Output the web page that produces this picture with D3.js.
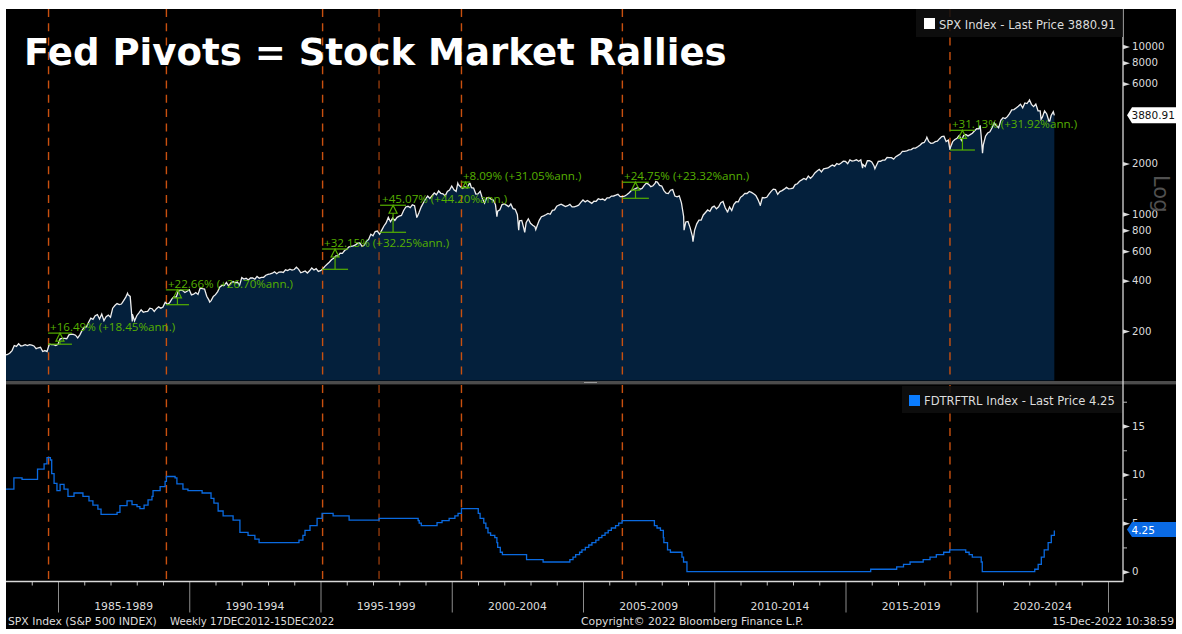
<![CDATA[<!DOCTYPE html>
<html><head><meta charset="utf-8">
<style>html,body{margin:0;padding:0;background:#fff;overflow:hidden}svg{display:block}text{font-family:"DejaVu Sans",sans-serif}</style>
<script src="https://cdn.jsdelivr.net/npm/d3@7"></script></head>
<body><svg id="c" width="1182" height="634"></svg>
<script>
// ---------- data read from the picture ----------
const spxFirstYear = 1983;
const spxMonthEnd = [
145,148,153,164,162,168,163,164,166,164,166,165,
163,157,159,160,151,153,151,167,166,166,164,167,
180,181,181,180,190,192,191,189,182,190,202,211,
212,226,239,235,247,251,236,253,231,244,249,242,
274,284,292,288,290,304,319,330,322,252,230,247,
257,268,259,261,262,274,272,262,272,279,274,278,
297,289,295,310,321,318,346,351,349,340,346,353,
329,332,340,331,361,358,356,323,306,304,322,330,
344,367,375,375,390,371,388,395,388,392,375,417,
409,413,404,415,415,408,424,414,418,419,431,436,
439,443,452,440,450,451,448,464,459,468,462,466,
482,467,446,451,457,444,458,476,463,472,454,459,
470,487,501,515,533,545,562,562,584,582,605,616,
636,640,645,654,669,671,640,652,687,705,757,741,
786,791,757,801,848,885,954,899,947,915,955,970,
980,1049,1102,1112,1091,1134,1121,957,1017,1099,1164,1229,
1280,1238,1286,1335,1302,1373,1329,1320,1283,1363,1389,1469,
1394,1366,1499,1452,1421,1455,1431,1518,1437,1429,1315,1320,
1366,1240,1160,1249,1256,1224,1211,1134,1041,1060,1139,1148,
1130,1107,1147,1077,1067,990,912,916,815,886,936,880,
856,841,848,917,964,975,990,1008,996,1051,1058,1112,
1131,1145,1126,1107,1121,1141,1102,1104,1115,1130,1174,1212,
1181,1204,1181,1157,1192,1191,1234,1220,1229,1207,1249,1248,
1280,1281,1295,1311,1270,1270,1277,1304,1336,1378,1401,1418,
1439,1407,1421,1482,1531,1503,1455,1474,1527,1549,1481,1468,
1379,1331,1323,1386,1400,1280,1267,1283,1165,969,896,903,
826,735,798,873,919,919,987,1021,1057,1036,1096,1115,
1074,1104,1169,1187,1089,1031,1102,1049,1141,1183,1181,1258,
1286,1327,1326,1364,1345,1321,1292,1219,1131,1253,1247,1258,
1312,1366,1408,1398,1310,1362,1379,1407,1441,1412,1416,1426,
1498,1515,1569,1598,1631,1606,1686,1633,1682,1757,1806,1848,
1783,1859,1872,1884,1924,1960,1931,2003,1972,2018,2068,2059,
1995,2105,2068,2086,2107,2063,2104,1972,1920,2079,2080,2044,
1940,1932,2060,2065,2097,2099,2174,2171,2168,2126,2199,2239,
2279,2364,2363,2384,2412,2423,2470,2472,2519,2575,2648,2674,
2824,2714,2641,2648,2705,2718,2816,2902,2914,2711,2760,2507,
2704,2784,2834,2946,2752,2942,2980,2926,2977,3038,3141,3231,
3226,2954,2585,2912,3044,3100,3271,3500,3363,3270,3622,3756,
3714,3811,3973,4181,4204,4298,4395,4523,4308,4605,4567,4766,
4516,4374,4530,4132,4132,3785,4130,3955,3586,3872,4080
];
// intra-month swings that month-end closes miss
const spxSwingYears = [1983.02,1987.65,1987.83,1990.78,1998.68,2000.23,2000.7,2001.72,2002.55,2002.78,2003.2,2007.77,2008.85,2009.19,2010.5,2011.75,2015.65,2016.12,2018.1,2018.98,2020.13,2020.22,2022.01,2022.45,2022.78,2022.955];
const spxSwingValues = [144,336,228,298,959,1527,1520,965,800,776,807,1561,800,683,1022,1120,1880,1865,2873,2416,3380,2304,4796,3675,3583,3880.91];

const fedYears = [1983.02,1983.32,1983.63,1984.22,1984.47,1984.58,1984.71,1984.76,1984.85,1984.96,1985.08,1985.23,1985.38,1985.61,1985.95,1986.18,1986.33,1986.52,1986.64,1987.25,1987.36,1987.63,1987.82,1988.01,1988.12,1988.28,1988.43,1988.58,1988.62,1988.89,1989.08,1989.13,1989.46,1989.53,1989.76,1989.95,1990.49,1990.83,1990.94,1991.1,1991.29,1991.67,1991.93,1992.24,1992.5,1992.66,1994.18,1994.33,1994.41,1994.6,1994.87,1995.06,1995.48,1996.09,1997.23,1998.72,1998.76,1998.84,1999.44,1999.63,1999.9,2000.12,2000.24,2000.37,2001.01,2001.08,2001.22,2001.3,2001.38,2001.48,2001.64,2001.72,2001.75,2001.85,2001.93,2002.85,2003.48,2004.5,2004.62,2004.72,2004.87,2004.96,2005.09,2005.22,2005.34,2005.49,2005.6,2005.72,2005.84,2005.96,2006.08,2006.24,2006.36,2006.49,2007.72,2007.82,2007.95,2008.06,2008.08,2008.22,2008.33,2008.77,2008.83,2008.96,2015.96,2016.95,2017.21,2017.46,2017.96,2018.22,2018.46,2018.74,2018.97,2019.58,2019.71,2019.83,2020.17,2020.21,2022.21,2022.34,2022.46,2022.57,2022.72,2022.84,2022.955];
const fedValues = [8.5,9.65,9.5,10.55,11.1,11.75,11.5,10.1,9.1,8.35,9,8.5,7.75,8.1,7.75,7.3,6.85,6.45,5.9,6.1,6.8,7.3,6.9,6.7,6.5,6.85,7.4,7.75,8.35,8.75,9.3,9.8,9.65,9.05,8.5,8.35,8.1,7.55,7.05,6.25,5.75,5.3,4.05,3.75,3.35,3,3.25,3.75,4.25,4.75,5.5,6,5.75,5.3,5.5,5.25,5,4.75,5.05,5.25,5.5,5.75,6,6.5,6,5.5,5,4.5,4,3.75,3.5,3,2.5,2,1.75,1.25,1,1.25,1.5,1.75,2,2.25,2.5,2.75,3,3.25,3.5,3.75,4,4.25,4.5,4.75,5,5.25,4.75,4.5,4.25,3.5,3,2.25,2,1.5,1,0,0.25,0.5,0.75,1,1.25,1.5,1.75,2,2.25,2,1.75,1.5,1,0,0.25,0.75,1.5,2.25,3,3.75,4.25];

const pivotYears = [1984.64,1989.13,1995.08,1997.23,2000.37,2006.5,2018.98];

const rallyStart = [1984.62,1989.11,1995.06,1997.27,2000.35,2006.49,2018.98];
const rallyEnd   = [1985.53,1989.99,1996.05,1998.26,2000.70,2007.51,2019.93];
const rallyLow   = [167,287.4,467.6,777.7,1435,1241,2410];
const rallyHigh  = [194.5,352.5,618,1128,1551,1548,3160];
const rallyLabels = ["+16.49% (+18.45%ann.)","+22.66% (+26.70%ann.)","+32.15% (+32.25%ann.)","+45.07% (+44.20%ann.)","+8.09% (+31.05%ann.)","+24.75% (+23.32%ann.)","+31.13% (+31.92%ann.)"];

const spxTicks = [10000,8000,6000,2000,1000,800,600,400,200];
const fedTicks = [0,5,10,15];
const fedMinorTicks = [2.5,7.5,12.5,17.5];
const periodStarts = [1985,1990,1995,2000,2005,2010,2015,2020];
const periodLabels = ["1985-1989","1990-1994","1995-1999","2000-2004","2005-2009","2010-2014","2015-2019","2020-2024"];
const minorYears = d3.range(1984,2026).filter(y=>y%5!==0);

const titleText = "Fed Pivots = Stock Market Rallies";
const spxLast = 3880.91, fedLast = 4.25;

// ---------- layout ----------
const L=6,R=1123,E=1176,T=9,B=629,topB=380.5,botT=385,botB=581;
const svg=d3.select("#c");
const x=d3.scaleLinear().domain([1985,2025]).range([58,1108]);
const yS=d3.scaleLog().domain([1000,10000]).range([214,46.5]);
const yF=d3.scaleLinear().domain([0,15]).range([571.7,426]);
const COL={axis:"#d8d8d8",text:"#dcdcdc",area:"#04203c",blue:"#0a6ae0",orange:"#c9500f",green:"#56b000"};

svg.append("rect").attr("x",L).attr("y",T).attr("width",E-L).attr("height",B-T).attr("fill","#000");

// SPX series
const spxData=spxMonthEnd.map((v,i)=>[spxFirstYear+(i+1)/12,v])
  .concat(spxSwingYears.map((yr,i)=>[yr,spxSwingValues[i]]))
  .sort((a,b)=>a[0]-b[0]);
svg.append("path").datum(spxData).attr("fill",COL.area)
  .attr("d",d3.area().x(d=>x(d[0])).y0(topB).y1(d=>yS(d[1])));

// pivots
[[T,topB],[botT,botB]].forEach(([a,b])=>{
  svg.append("g").selectAll("line").data(pivotYears).join("line")
    .attr("x1",d=>x(d)).attr("x2",d=>x(d)).attr("y1",a).attr("y2",b)
    .attr("stroke",COL.orange).attr("stroke-width",(d,i)=>i===3?1:1.4).attr("stroke-dasharray","8,6.3");
});

svg.append("path").datum(spxData).attr("fill","none").attr("stroke","#eeeeee").attr("stroke-width",1.3)
  .attr("d",d3.line().x(d=>x(d[0])).y(d=>yS(d[1])));

// rally measures
const ann=svg.append("g");
rallyLabels.forEach((lab,i)=>{
  const x0=x(rallyStart[i]),x1=x(rallyEnd[i]),yl=yS(rallyLow[i]),yh=yS(rallyHigh[i]),m=(x0+x1)/2;
  const h=Math.min(8,yl-yh);
  const g=ann.append("g").attr("stroke",COL.green).attr("stroke-width",1.2).attr("fill","none");
  g.append("line").attr("x1",x0).attr("x2",x1).attr("y1",yh).attr("y2",yh);
  g.append("line").attr("x1",x0).attr("x2",x1).attr("y1",yl).attr("y2",yl);
  g.append("line").attr("x1",m).attr("x2",m).attr("y1",yh+h).attr("y2",yl);
  g.append("path").attr("d",`M${m},${yh}L${m+h/2},${yh+h}L${m-h/2},${yh+h}Z`);
  ann.append("text").attr("x",x0+2).attr("y",yh-2).attr("fill",COL.green).attr("font-size",11.6)
    .style("font-family",'"Open Sans",sans-serif').text(lab);
});

// separator
svg.append("rect").attr("x",L).attr("y",381).attr("width",E-L).attr("height",3.4).attr("fill","#4c4c4c");
svg.append("rect").attr("x",584).attr("y",382).attr("width",13).attr("height",1).attr("fill","#9a9a9a");

// Fed series
svg.append("path").datum(fedYears.map((yr,i)=>[yr,fedValues[i]])).attr("fill","none")
  .attr("stroke",COL.blue).attr("stroke-width",1.3)
  .attr("d",d3.line().curve(d3.curveStepAfter).x(d=>x(d[0])).y(d=>yF(d[1])));

// x axis
const styleAxis=g=>{g.selectAll(".domain").remove();g.selectAll("text").remove();};
svg.append("g").attr("transform",`translate(0,${botB+.5})`)
  .call(d3.axisBottom(x).tickValues(minorYears).tickSize(4)).call(styleAxis)
  .selectAll("line").attr("stroke","#bdbdbd");
svg.append("g").attr("transform",`translate(0,${botB+.5})`)
  .call(d3.axisBottom(x).tickValues(periodStarts.concat([2025])).tickSize(31)).call(styleAxis)
  .selectAll("line").attr("stroke","#8c8c8c");
svg.append("line").attr("x1",L).attr("x2",R+.5).attr("y1",botB+.5).attr("y2",botB+.5).attr("stroke",COL.axis).attr("stroke-width",1.3);
svg.append("g").selectAll("text").data(periodLabels).join("text")
  .attr("x",(d,i)=>x(periodStarts[i]+2.5)).attr("y",609.5).attr("text-anchor","middle")
  .attr("fill",COL.text).attr("font-size",10.8).text(d=>d);

// y axes
svg.append("line").attr("x1",R).attr("x2",R).attr("y1",T).attr("y2",botB+.5).attr("stroke",COL.axis).attr("stroke-width",1.3);
const rightAxis=(scale,ticks)=>g=>{
  g.call(d3.axisRight(scale).tickValues(ticks).tickSize(0).tickPadding(9).tickFormat(d3.format("d")));
  g.selectAll(".domain").remove();
  g.selectAll("text").attr("fill",COL.text).attr("font-size",10.2).style("font-family",'"DejaVu Sans",sans-serif');
  g.selectAll(".tick").append("path").attr("d","M0,-2.2L7,0L0,2.2Z").attr("fill",COL.text);
};
svg.append("g").attr("transform",`translate(${R},0)`).call(rightAxis(yS,spxTicks));
svg.append("g").attr("transform",`translate(${R},0)`).call(rightAxis(yF,fedTicks));
svg.append("g").attr("transform",`translate(${R},0)`)
  .call(d3.axisRight(yF).tickValues(fedMinorTicks).tickSize(4).tickFormat("")).call(g=>g.select(".domain").remove())
  .selectAll("line").attr("stroke","#bdbdbd");

svg.append("text").attr("transform","translate(1154,175) rotate(90)").attr("fill","#505050").attr("font-size",21).text("Log");

// last-price tags
const tag=(yy,h,fill,tc,label)=>{
  svg.append("path").attr("d",`M1127,${yy}L1132,${yy-h/2}H${E}V${yy+h/2}H1132Z`).attr("fill",fill);
  svg.append("text").attr("x",1131.5).attr("y",yy+4).attr("fill",tc).attr("font-size",10.5).text(label);
};
tag(yS(spxLast),16,"#fff","#111",spxLast.toFixed(2));
tag(yF(fedLast)-.8,15,"#0a6ae4","#fff",fedLast.toFixed(2));

// legends
const legend=(bx,by,bw,bh,col,sx,sy,tx,ty,label)=>{
  svg.append("rect").attr("x",bx).attr("y",by).attr("width",bw).attr("height",bh).attr("fill","#0f0f0f").attr("fill-opacity",.88);
  svg.append("rect").attr("x",sx).attr("y",sy).attr("width",11).attr("height",11).attr("fill",col);
  svg.append("text").attr("x",tx).attr("y",ty).attr("fill",COL.text).attr("font-size",11.55).text(label);
};
legend(916,9,207,28,"#fff",924,18,939,28.5,"SPX Index - Last Price "+spxLast.toFixed(2));
legend(902,386,220,27,"#0a7cff",909,395,924,405,"FDTRFTRL Index - Last Price "+fedLast.toFixed(2));

// footer
const foot=(xp,label,anchor,size)=>svg.append("text").attr("x",xp).attr("y",624.5).attr("fill",COL.text).attr("font-size",size||10.8).attr("text-anchor",anchor||"start").text(label);
foot(8,"SPX Index (S&P 500 INDEX)");
foot(170,"Weekly 17DEC2012-15DEC2022","start",10.2);
foot(581,"Copyright\u00A9 2022 Bloomberg Finance L.P.");
foot(1174,"15-Dec-2022 10:38:59","end");

// title
svg.append("text").attr("x",24).attr("y",65).attr("fill","#fff").attr("font-size",37.1).attr("font-weight",700).text(titleText);
</script></body></html>]]>
